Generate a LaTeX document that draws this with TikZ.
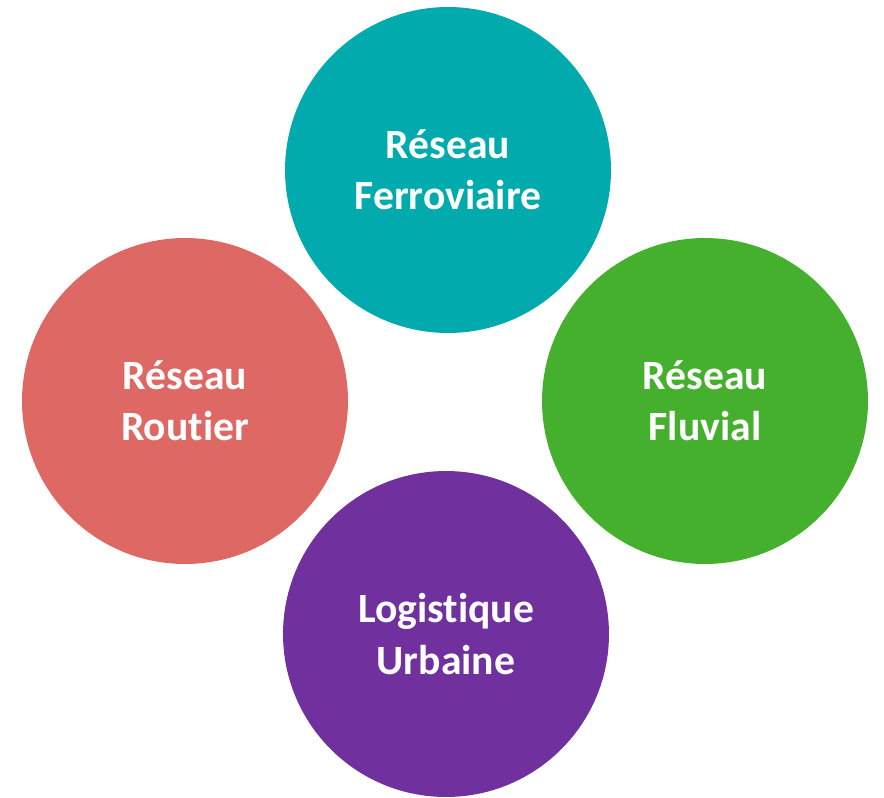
\documentclass[tikz,border=0pt]{standalone}
\usepackage{fontspec}
\setmainfont{Carlito}[Ligatures={NoCommon,NoContextual}]
\definecolor{ferro}{HTML}{00AAAD}
\definecolor{routier}{HTML}{DD6864}
\definecolor{fluvial}{HTML}{44B02D}
\definecolor{urbaine}{HTML}{70309E}

\begin{document}
\begin{tikzpicture}[x=0.02cm, y=-0.02cm,
	pole/.style={circle, minimum size=6.52cm, inner sep=0pt, text=white, align=center,
		font=\bfseries\fontsize{23.7}{29.3}\selectfont}]
	\useasboundingbox (0,0) rectangle (884,797);
		\node[pole, fill=ferro]   (F) at (448,170) {Réseau\\Ferroviaire};
		\node[pole, fill=routier] (R) at (185,401) {Réseau\\Routier};
		\node[pole, fill=fluvial] (V) at (705,401) {Réseau\\Fluvial};
		\node[pole, fill=urbaine] (U) at (446,634) {Logistique\\Urbaine};
	\end{tikzpicture}
\end{document}
